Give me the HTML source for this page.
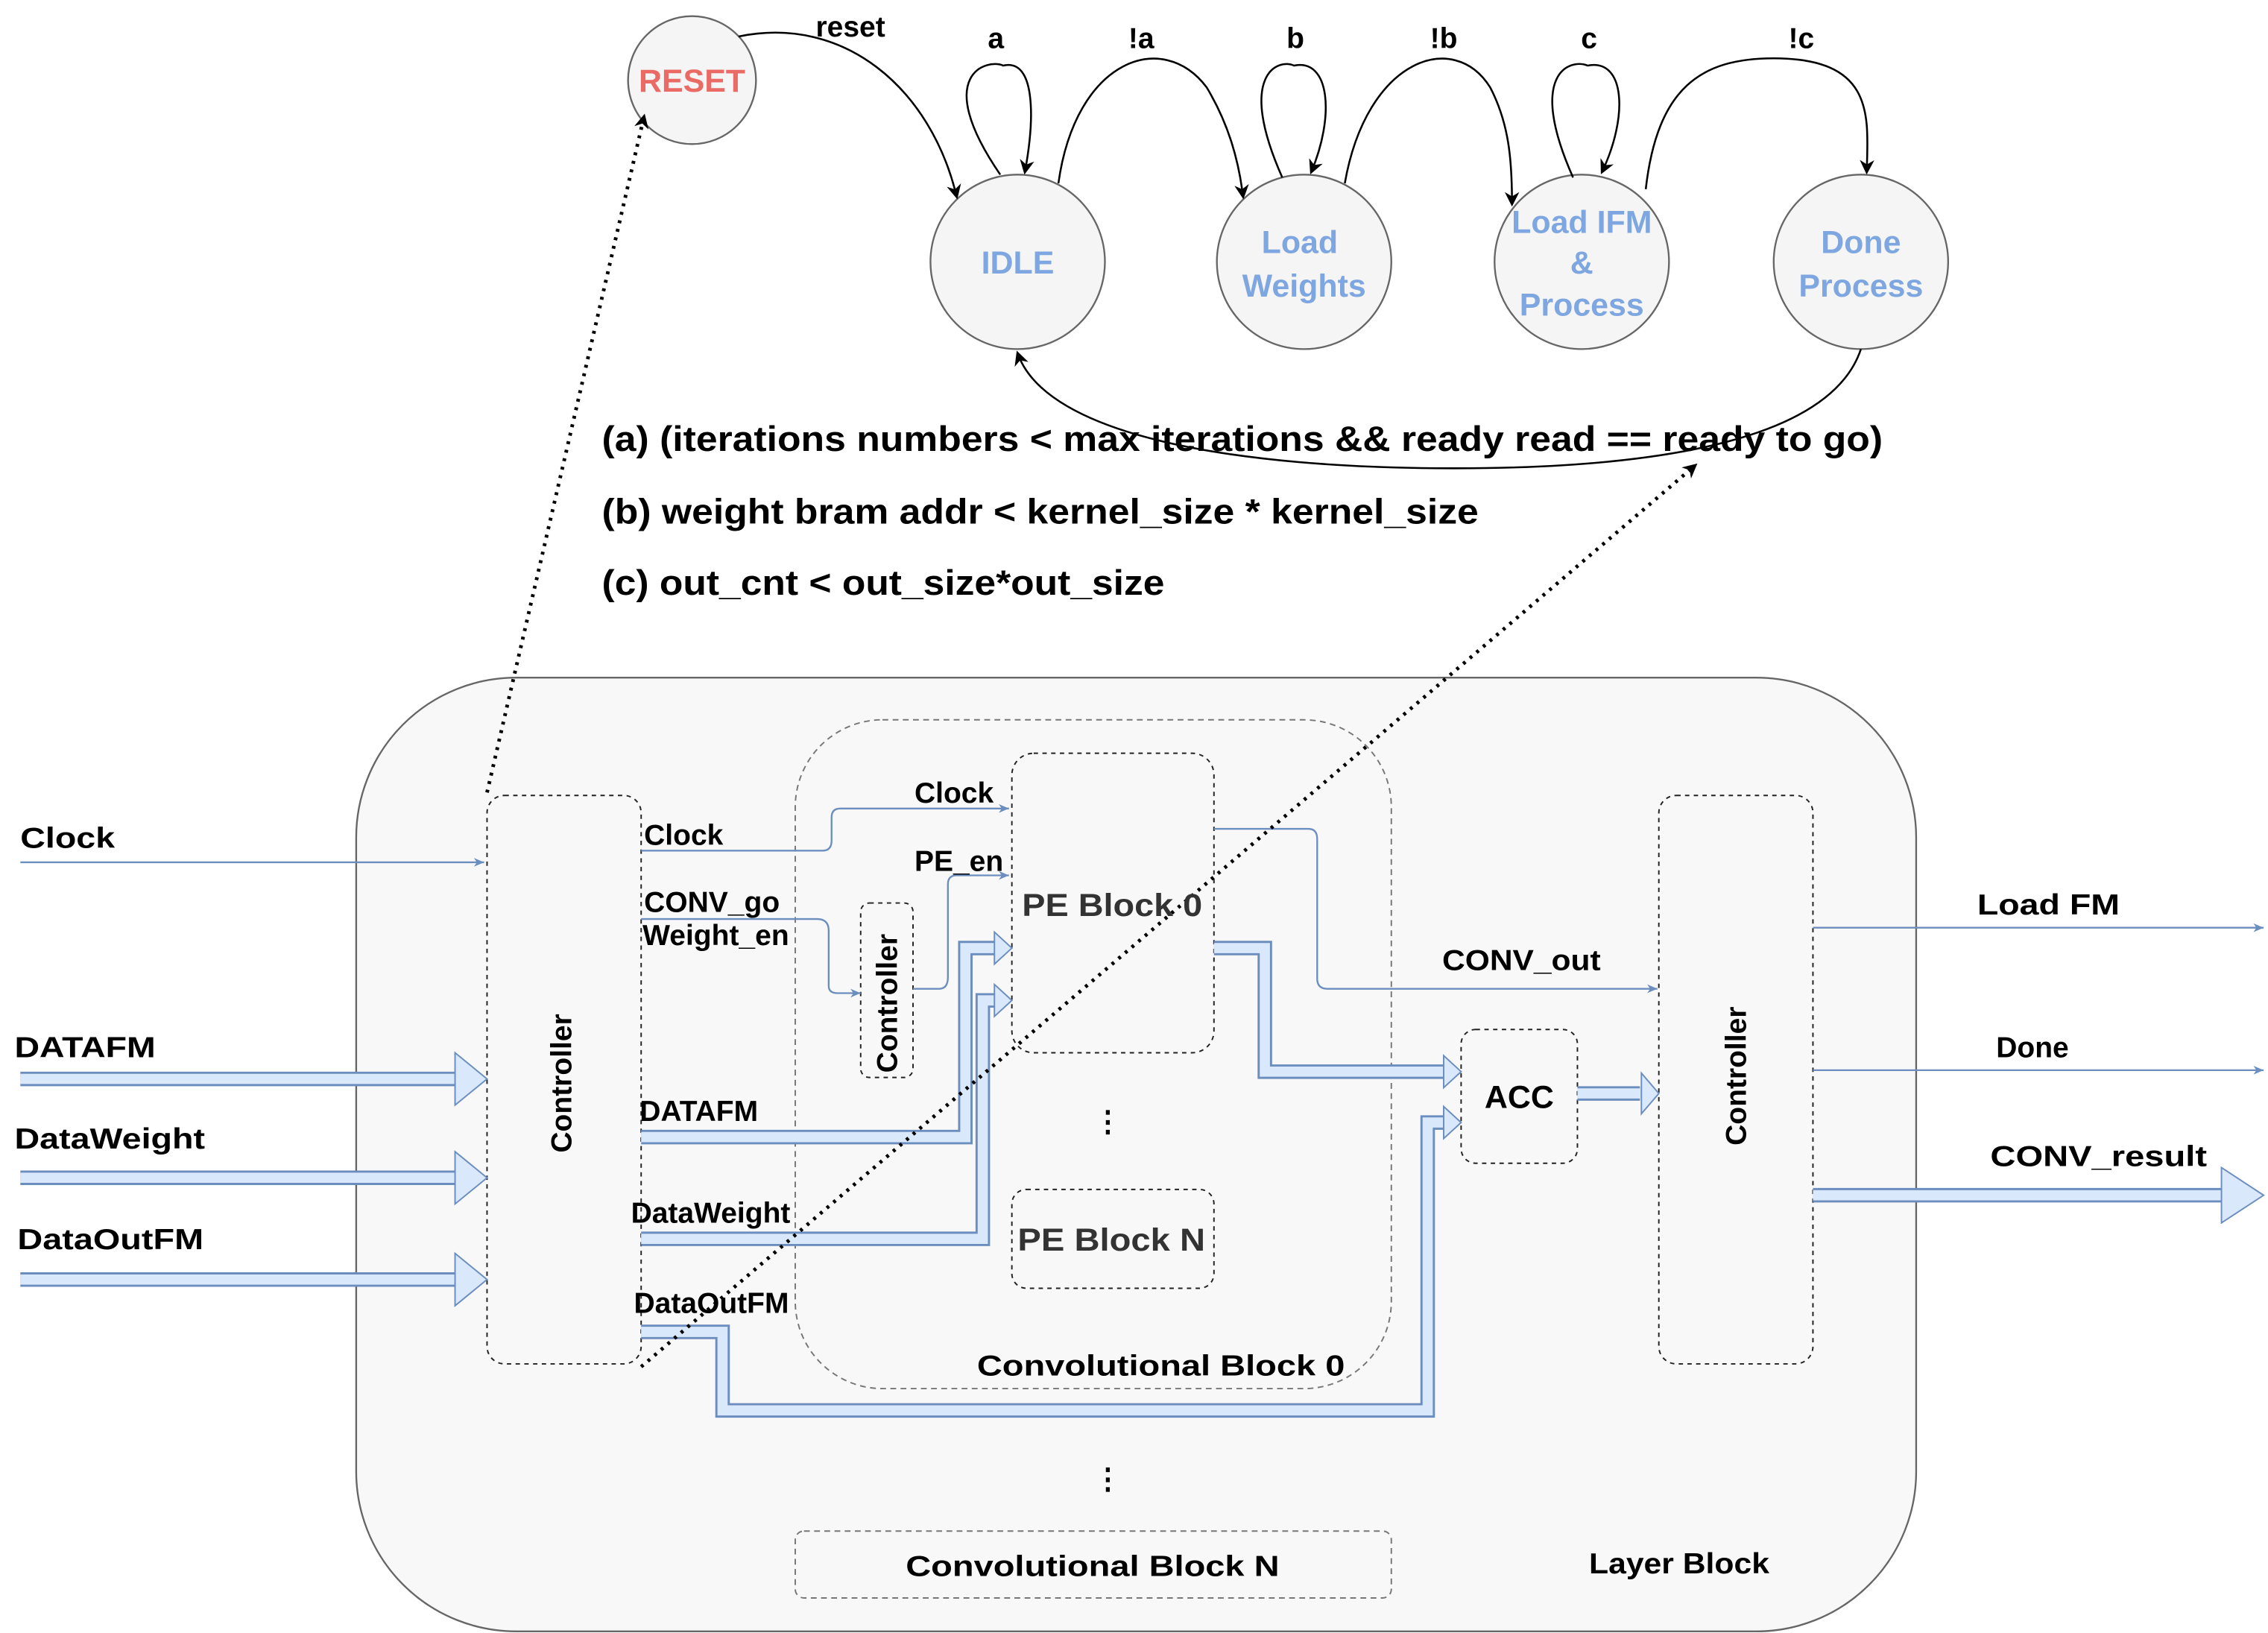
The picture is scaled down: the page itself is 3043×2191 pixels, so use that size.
<!DOCTYPE html>
<html><head><meta charset="utf-8"><style>
html,body{margin:0;padding:0;background:#fff;}
svg{display:block;}
text{font-family:"Liberation Sans",Arial,sans-serif;font-weight:bold;}
</style></head><body>
<svg width="3043" height="2191" viewBox="0 0 1560 1123" xmlns="http://www.w3.org/2000/svg">
<defs>
<marker id="ab" markerWidth="10" markerHeight="10" refX="8" refY="5" orient="auto" markerUnits="userSpaceOnUse"><path d="M0,0 L10,5 L0,10 L3,5 z" fill="#000"/></marker>
<marker id="abl" markerWidth="8" markerHeight="8" refX="7" refY="4" orient="auto" markerUnits="userSpaceOnUse"><path d="M0,1 L7,4 L0,7 L2,4 z" fill="#6c8ebf"/></marker>
</defs>
<!-- FSM -->
<g fill="#f5f5f5" stroke="#666" stroke-width="1.2">
<circle cx="476" cy="55" r="44"/>
<circle cx="700" cy="180" r="60"/>
<circle cx="897" cy="180" r="60"/>
<circle cx="1088" cy="180" r="60"/>
<circle cx="1280" cy="180" r="60"/>
</g>
<text x="476" y="63" font-size="22" fill="#ea6b66" text-anchor="middle">RESET</text>
<g font-size="22" fill="#7ea6e0" text-anchor="middle">
<text x="700" y="188">IDLE</text>
<text x="894" y="174">Load</text><text x="897" y="204">Weights</text>
<text x="1088" y="160">Load IFM</text><text x="1088" y="188">&amp;</text><text x="1088" y="217">Process</text>
<text x="1280" y="174">Done</text><text x="1280" y="204">Process</text>
</g>
<g fill="none" stroke="#000" stroke-width="1.3" marker-end="url(#ab)">
<path d="M508,25 C580,10 640,60 658,135"/>
<path d="M688,120 C640,50 680,40 690,45 C712,40 712,80 705,118"/>
<path d="M728,126 C740,40 800,20 830,60 C845,85 852,110 855,135"/>
<path d="M882,122 C850,50 880,40 890,45 C915,40 918,80 902,118"/>
<path d="M925,126 C940,40 1000,20 1025,60 C1038,85 1040,110 1040,140"/>
<path d="M1082,122 C1050,50 1080,40 1092,45 C1118,40 1120,80 1102,118"/>
<path d="M1132,130 C1140,60 1170,40 1220,40 C1290,40 1285,80 1284,118"/>
<path d="M1280,240 C1260,300 1150,322 1000,322 C850,322 720,300 700,243"/>
</g>
<g font-size="20" fill="#000" text-anchor="middle">
<text x="585" y="25">reset</text><text x="685" y="33">a</text><text x="785" y="33">!a</text>
<text x="891" y="33">b</text><text x="993" y="33">!b</text><text x="1093" y="33">c</text><text x="1239" y="33">!c</text>
</g>
<g font-size="24" fill="#000" lengthAdjust="spacingAndGlyphs">
<text x="414" y="310" textLength="881" lengthAdjust="spacingAndGlyphs">(a) (iterations numbers &lt; max iterations &amp;&amp; ready read == ready to go)</text>
<text x="414" y="360" textLength="603" lengthAdjust="spacingAndGlyphs">(b) weight bram addr &lt; kernel_size * kernel_size</text>
<text x="414" y="409" textLength="387" lengthAdjust="spacingAndGlyphs">(c) out_cnt &lt; out_size*out_size</text>
</g>
<!-- Layer block -->
<rect x="245" y="466" width="1073" height="656" rx="110" fill="#f8f8f8" stroke="#666" stroke-width="1.2"/>
<g fill="none" stroke="#777" stroke-width="1" stroke-dasharray="4,3">
<rect x="547" y="495" width="410" height="460" rx="60"/>
<rect x="547" y="1053" width="410" height="46" rx="6"/>
</g>
<g fill="none" stroke="#222" stroke-width="1" stroke-dasharray="3,3">
<rect x="335" y="547" width="106" height="391" rx="12"/>
<rect x="1141" y="547" width="106" height="391" rx="12"/>
<rect x="696" y="518" width="139" height="206" rx="15"/>
<rect x="696" y="818" width="139" height="68" rx="10"/>
<rect x="592" y="621" width="36" height="120" rx="6"/>
<rect x="1005" y="708" width="80" height="92" rx="10"/>
</g>
<!-- thin blue -->
<g fill="none" stroke="#6c8ebf" stroke-width="1.2" marker-end="url(#abl)">
<path d="M14,593 H333"/>
<path d="M441,585 H566 Q572,585 572,578 V562 Q572,556 578,556 H694"/>
<path d="M441,632 H562 Q570,632 570,640 V678 Q570,683 576,683 H592"/>
<path d="M628,680 H646 Q652,680 652,672 V608 Q652,602 658,602 H694"/>
<path d="M835,570 H900 Q906,570 906,577 V673 Q906,680 913,680 H1140"/>
<path d="M1247,638 H1557"/>
<path d="M1247,736 H1557"/>
</g>
<!-- thick blue -->
<g fill="none" stroke-linejoin="miter">
<g stroke="#6c8ebf" stroke-width="10">
<path d="M14,742 H316"/><path d="M14,810 H316"/><path d="M14,880 H316"/>
<path d="M441,782 H664 V652 H684"/>
<path d="M441,852 H676 V688 H684"/>
<path d="M835,652 H870 V737 H993"/>
<path d="M441,916 H497 V970 H982 V772 H993"/>
<path d="M1085,752 H1128"/>
<path d="M1247,822 H1530"/>
</g>
<g stroke="#dae8fc" stroke-width="7">
<path d="M14,742 H318"/><path d="M14,810 H318"/><path d="M14,880 H318"/>
<path d="M441,782 H664 V652 H686"/>
<path d="M441,852 H676 V688 H686"/>
<path d="M835,652 H870 V737 H995"/>
<path d="M441,916 H497 V970 H982 V772 H995"/>
<path d="M1085,752 H1130"/>
<path d="M1247,822 H1532"/>
</g>
</g>
<g fill="#dae8fc" stroke="#6c8ebf" stroke-width="1">
<path d="M313,724 L335,742 L313,760 z"/>
<path d="M313,792 L335,810 L313,828 z"/>
<path d="M313,862 L335,880 L313,898 z"/>
<path d="M684,641 L696,652 L684,663 z"/>
<path d="M684,677 L696,688 L684,699 z"/>
<path d="M993,726 L1005,737 L993,748 z"/>
<path d="M993,761 L1005,772 L993,783 z"/>
<path d="M1129,738 L1141,752 L1129,766 z"/>
<path d="M1528,803 L1557,822 L1528,841 z"/>
</g>
<!-- dotted -->
<g fill="none" stroke="#000" stroke-width="2.5" stroke-dasharray="2,4" marker-end="url(#ab)">
<path d="M335,545 L443,80"/>
<path d="M441,940 L1166,320"/>
</g>
<!-- labels -->
<g font-size="20" fill="#000">
<text x="14" y="583" textLength="65" lengthAdjust="spacingAndGlyphs">Clock</text>
<text x="10" y="727" textLength="97" lengthAdjust="spacingAndGlyphs">DATAFM</text>
<text x="10" y="790" textLength="131" lengthAdjust="spacingAndGlyphs">DataWeight</text>
<text x="12" y="859" textLength="128" lengthAdjust="spacingAndGlyphs">DataOutFM</text>
<text x="443" y="581">Clock</text><text x="443" y="627">CONV_go</text><text x="442" y="650">Weight_en</text>
<text x="440" y="771">DATAFM</text><text x="434" y="841">DataWeight</text><text x="436" y="903">DataOutFM</text>
<text x="629" y="552">Clock</text><text x="629" y="599">PE_en</text>
<text x="992" y="667" textLength="109" lengthAdjust="spacingAndGlyphs">CONV_out</text>
<text x="1360" y="629" textLength="98" lengthAdjust="spacingAndGlyphs">Load FM</text>
<text x="1373" y="727">Done</text>
<text x="1369" y="802" textLength="149" lengthAdjust="spacingAndGlyphs">CONV_result</text>
<text x="672" y="946" textLength="253" lengthAdjust="spacingAndGlyphs">Convolutional Block 0</text>
<text x="623" y="1084" textLength="257" lengthAdjust="spacingAndGlyphs">Convolutional Block N</text>
<text x="1093" y="1082" textLength="124" lengthAdjust="spacingAndGlyphs">Layer Block</text>
</g>
<g font-size="22" fill="#333">
<text x="703" y="630" textLength="124" lengthAdjust="spacingAndGlyphs">PE Block 0</text>
<text x="700" y="860" textLength="129" lengthAdjust="spacingAndGlyphs">PE Block N</text>
<text x="1045" y="762" fill="#000" text-anchor="middle">ACC</text>
</g>
<g font-size="20" fill="#000" text-anchor="middle">
<text transform="translate(393,745) rotate(-90)">Controller</text>
<text transform="translate(1201,740) rotate(-90)">Controller</text>
<text transform="translate(617,690) rotate(-90)">Controller</text>
<text x="762" y="778">⋮</text><text x="762" y="1024">⋮</text>
</g>
</svg>
</body></html>
